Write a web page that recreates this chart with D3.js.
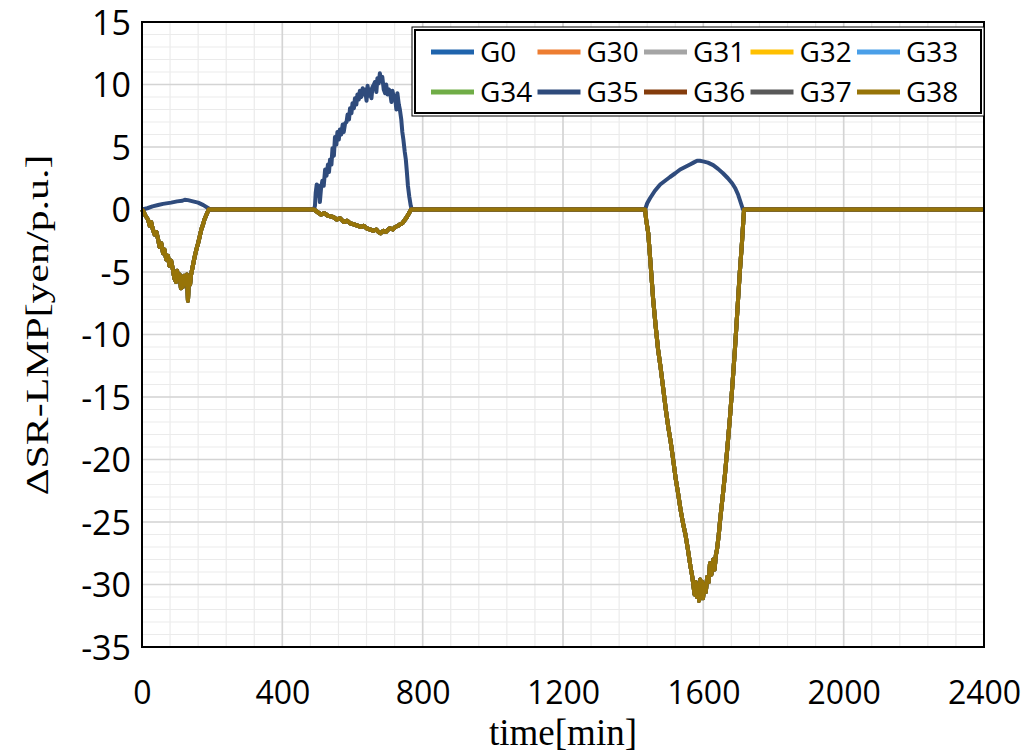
<!DOCTYPE html>
<html>
<head>
<meta charset="utf-8">
<script src="https://cdn.jsdelivr.net/npm/d3@7"></script>
<style>
  body { margin: 0; background: #fff; }
  text { fill: #000; }
</style>
</head>
<body>
<svg id="chart" width="1031" height="755"></svg>
<script>
// chart values
var seriesNames = ["G0", "G30", "G31", "G32", "G33", "G34", "G35", "G36", "G37", "G38"];
var seriesColors = ["#1f64ad", "#ed7d31", "#a5a5a5", "#ffc000", "#4a9fe8",
                    "#70ad47", "#2f4b7c", "#843c0c", "#595959", "#977408"];
var xTicks = [0, 400, 800, 1200, 1600, 2000, 2400];
var yTicks = [15, 10, 5, 0, -5, -10, -15, -20, -25, -30, -35];

// G35 [time, value]
var g35 = [
  [0,0],[15,0.1],[30,0.25],[46,0.36],[60,0.45],[83,0.55],[100,0.65],[115,0.7],[122,0.78],[131,0.75],
  [145,0.65],[160,0.55],[175,0.35],[188,0.12],[195,0],
  [490,0],[493,0.3],[495,1.3],[498,2.0],[501,1.1],[504,1.9],[507,0.6],[510,1.6],[514,2.3],[518,1.9],
  [522,3.2],[526,2.7],[530,3.6],[533,3.0],[536,4.0],[540,3.6],[543,4.9],[547,4.3],[550,5.8],[554,5.2],
  [557,6.2],[561,5.6],[564,6.4],[568,6.0],[572,6.8],[575,6.2],[579,6.9],[583,7.0],[586,7.6],[590,7.2],
  [593,8.1],[597,7.7],[600,8.5],[604,8.1],[607,8.9],[611,8.4],[614,9.2],[618,8.8],[621,9.5],[625,9.0],
  [629,9.7],[632,9.2],[636,9.6],[640,8.7],[643,9.9],[647,9.1],[650,9.6],[654,8.9],[657,9.8],[661,10.0],
  [664,10.2],[668,9.4],[671,10.5],[675,10.1],[678,10.9],[682,10.3],[685,10.6],[689,9.6],[693,9.3],[696,10.0],
  [700,9.2],[704,9.6],[707,9.4],[711,8.6],[714,9.5],[718,8.9],[721,9.1],[725,8.0],[728,9.3],[732,8.4],
  [735,8.0],[739,7.2],[742,6.2],[745,5.6],[749,4.6],[752,4.0],[755,3.0],[758,1.9],[762,1.0],[766,0.3],[769,0],
  [1434,0],[1440,0.5],[1448,0.9],[1462,1.5],[1477,2.0],[1491,2.3],[1505,2.6],[1520,2.9],[1534,3.2],[1548,3.4],
  [1562,3.6],[1572,3.75],[1582,3.9],[1590,3.9],[1599,3.85],[1613,3.75],[1628,3.55],[1642,3.25],[1656,2.9],
  [1670,2.5],[1682,2.1],[1691,1.7],[1699,1.2],[1706,0.6],[1713,0],[2400,0]
];

// G38 [time, value]; the other generators follow this curve and lie hidden under it
var g38 = [
  [0,0],[5,-0.2],[10,-0.5],[17,-0.8],[22,-1.3],[26,-1.0],[31,-1.6],[36,-2.0],[41,-1.8],[46,-2.4],
  [50,-3.0],[55,-2.7],[60,-3.5],[64,-3.2],[69,-4.0],[74,-3.7],[78,-4.5],[83,-4.1],[88,-4.8],[92,-5.5],
  [97,-5.8],[100,-4.9],[104,-5.6],[107,-5.2],[111,-6.3],[114,-5.4],[116,-6.2],[120,-5.3],[125,-6.0],[128,-5.2],
  [131,-7.3],[134,-5.5],[137,-6.0],[140,-5.2],[145,-4.5],[150,-3.8],[155,-3.2],[160,-2.7],[165,-2.1],[169,-1.6],
  [174,-1.2],[178,-0.8],[184,-0.4],[190,0],
  [490,0],[500,-0.2],[510,-0.4],[520,-0.3],[530,-0.5],[545,-0.6],[555,-0.8],[565,-0.7],[575,-1.0],[585,-0.9],
  [593,-1.1],[605,-1.2],[615,-1.3],[625,-1.4],[632,-1.3],[640,-1.5],[650,-1.6],[660,-1.7],[668,-1.6],[674,-1.8],
  [680,-1.9],[688,-1.7],[695,-1.8],[702,-1.6],[707,-1.5],[715,-1.6],[722,-1.4],[730,-1.3],[735,-1.2],[742,-1.1],
  [750,-0.8],[755,-0.6],[761,-0.3],[767,0],
  [1434,0],[1437,-0.8],[1443,-1.9],[1450,-4.5],[1457,-7.2],[1464,-9.3],[1471,-11.2],[1478,-12.6],[1486,-14.4],
  [1493,-16.0],[1500,-17.4],[1507,-18.6],[1514,-20.0],[1521,-21.5],[1528,-22.7],[1535,-24.0],[1542,-25.1],
  [1549,-26.0],[1556,-27.2],[1563,-28.5],[1568,-29.3],[1571,-29.9],[1575,-30.8],[1578,-29.8],[1582,-31.0],
  [1585,-30.0],[1588,-31.3],[1591,-29.6],[1594,-30.6],[1597,-29.8],[1599,-31.1],[1603,-30.0],[1607,-30.6],
  [1611,-29.4],[1615,-29.8],[1619,-28.3],[1623,-29.2],[1628,-28.0],[1632,-28.8],[1636,-27.6],[1639,-27.2],
  [1644,-26.0],[1648,-24.8],[1655,-23.0],[1662,-21.1],[1669,-18.9],[1676,-16.6],[1683,-14.0],[1690,-11.2],
  [1695,-9.0],[1699,-7.2],[1704,-5.0],[1710,-2.7],[1716,0],[2400,0]
];

var seriesData = seriesNames.map(function(name, i) {
  return { name: name, color: seriesColors[i], points: name === "G35" ? g35 : g38 };
});

var svg = d3.select("#chart");
var plotLeft = 142, plotRight = 984, plotTop = 22, plotBottom = 647;

var x = d3.scaleLinear().domain([0, 2400]).range([plotLeft, plotRight]);
var y = d3.scaleLinear().domain([-35, 15]).range([plotBottom, plotTop]);

// minor grid
var grid = svg.append("g");
grid.selectAll(".vminor").data(d3.range(0, 2401, 80))
  .enter().append("line")
  .attr("x1", function(d) { return x(d); }).attr("x2", function(d) { return x(d); })
  .attr("y1", plotTop).attr("y2", plotBottom)
  .attr("stroke", "#ebebeb").attr("stroke-width", 1.2);
grid.selectAll(".hminor").data(d3.range(-35, 16, 1))
  .enter().append("line")
  .attr("x1", plotLeft).attr("x2", plotRight)
  .attr("y1", function(d) { return y(d); }).attr("y2", function(d) { return y(d); })
  .attr("stroke", "#ebebeb").attr("stroke-width", 1.2);
// major grid
grid.selectAll(".vmajor").data(xTicks)
  .enter().append("line")
  .attr("x1", function(d) { return x(d); }).attr("x2", function(d) { return x(d); })
  .attr("y1", plotTop).attr("y2", plotBottom)
  .attr("stroke", "#d4d4d4").attr("stroke-width", 1.6);
grid.selectAll(".hmajor").data(yTicks)
  .enter().append("line")
  .attr("x1", plotLeft).attr("x2", plotRight)
  .attr("y1", function(d) { return y(d); }).attr("y2", function(d) { return y(d); })
  .attr("stroke", "#d4d4d4").attr("stroke-width", 1.6);

// lines
var line = d3.line()
  .x(function(d) { return x(d[0]); })
  .y(function(d) { return y(d[1]); });

svg.append("g").selectAll("path").data(seriesData)
  .enter().append("path")
  .attr("d", function(d) { return line(d.points); })
  .attr("fill", "none")
  .attr("stroke", function(d) { return d.color; })
  .attr("stroke-width", 4)
  .attr("stroke-linejoin", "round");

// plot frame
svg.append("rect")
  .attr("x", plotLeft).attr("y", plotTop)
  .attr("width", plotRight - plotLeft).attr("height", plotBottom - plotTop)
  .attr("fill", "none").attr("stroke", "#000").attr("stroke-width", 2);

// axes (labels only, Excel style)
var plain = function(d) { return String(d); };
var yAxis = d3.axisLeft(y).tickValues(yTicks).tickFormat(plain).tickSize(0).tickPadding(11);
var gy = svg.append("g").attr("transform", "translate(" + plotLeft + ",0)").call(yAxis);
gy.select(".domain").remove();
gy.selectAll("text")
  .attr("font-family", "Open Sans, sans-serif").attr("font-size", 34)
  .attr("dy", "0.36em");

var xAxis = d3.axisBottom(x).tickValues(xTicks).tickFormat(plain).tickSize(0).tickPadding(45);
var gx = svg.append("g").attr("transform", "translate(0," + plotBottom + ")").call(xAxis);
gx.select(".domain").remove();
gx.selectAll("text")
  .attr("font-family", "Open Sans, sans-serif").attr("font-size", 32)
  .attr("dy", "0.36em");

// axis titles
svg.append("text")
  .attr("x", x(1200)).attr("y", 745)
  .attr("text-anchor", "middle")
  .attr("font-family", "Liberation Serif, serif").attr("font-size", 37)
  .text("time[min]");

svg.append("text")
  .attr("transform", "translate(48,325) rotate(-90) scale(1.35,1)")
  .attr("text-anchor", "middle")
  .attr("font-family", "Liberation Serif, serif").attr("font-size", 31)
  .text("\u0394SR-LMP[yen/p.u.]");

// legend
var legend = svg.append("g");
legend.append("rect")
  .attr("x", 412).attr("y", 27).attr("width", 572).attr("height", 89)
  .attr("fill", "#fff").attr("stroke", "#000").attr("stroke-width", 1);
legend.append("rect")
  .attr("x", 415).attr("y", 30).attr("width", 566).attr("height", 83)
  .attr("fill", "none").attr("stroke", "#000").attr("stroke-width", 2);

var item = legend.selectAll(".item").data(seriesData)
  .enter().append("g")
  .attr("transform", function(d, i) {
    var col = i % 5, row = Math.floor(i / 5);
    return "translate(" + (431 + col * 106.5) + "," + (52 + row * 40) + ")";
  });
item.append("line")
  .attr("x1", 0).attr("x2", 43).attr("y1", 0).attr("y2", 0)
  .attr("stroke", function(d) { return d.color; })
  .attr("stroke-width", 5);
item.append("text")
  .attr("x", 49).attr("y", 0).attr("dy", "0.36em")
  .attr("font-family", "Open Sans, sans-serif").attr("font-size", 28)
  .text(function(d) { return d.name; });
</script>
</body>
</html>
